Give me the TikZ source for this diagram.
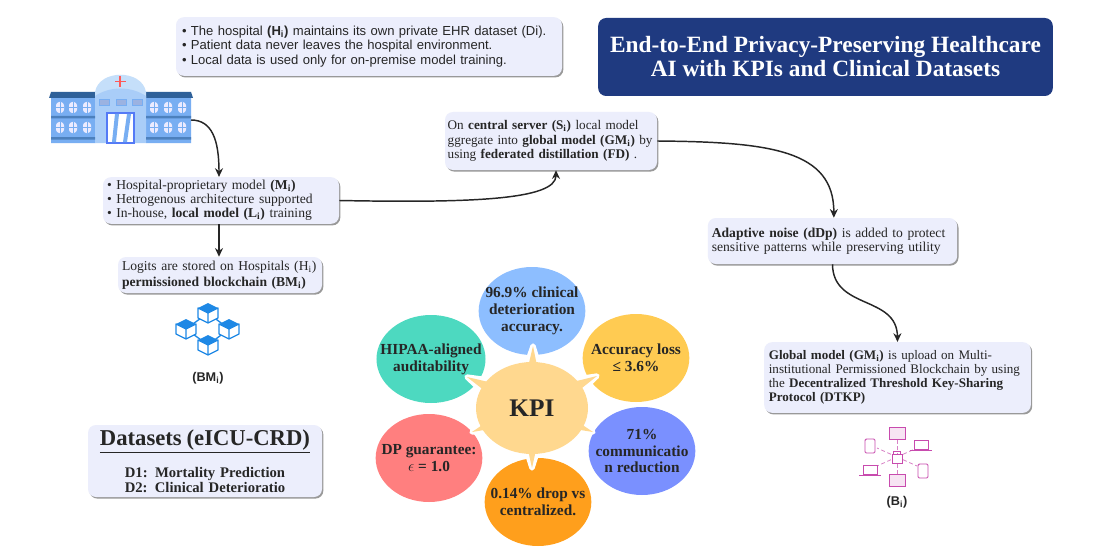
\documentclass[tikz,border=0pt]{standalone}
\usepackage{fontspec}
\setmainfont{Liberation Serif}
\setsansfont{Liberation Sans}
\usepackage{xcolor}
\usetikzlibrary{shapes.geometric,shadows,calc,arrows.meta}
\definecolor{noteblue}{HTML}{ECEEFC}
\definecolor{titlenavy}{HTML}{1F3A80}
\definecolor{kpicore}{HTML}{FFD88F}
\definecolor{kpiblue}{HTML}{8DBEFF}
\definecolor{kpiyellow}{HTML}{FFCB52}
\definecolor{kpiviolet}{HTML}{7A90FF}
\definecolor{kpiorange}{HTML}{FF9F1C}
\definecolor{kpired}{HTML}{FF7F7F}
\definecolor{kpiteal}{HTML}{4DD9C0}
\definecolor{wingblue}{HTML}{78AEF2}
\definecolor{roofblue}{HTML}{2F6199}
\definecolor{domeblue}{HTML}{C5DFFA}
\definecolor{hallblue}{HTML}{A9CDF8}
\definecolor{cubeblue}{HTML}{1E88E5}
\definecolor{devpink}{HTML}{C84BAE}
\newcommand{\sbi}{\textsubscript{i}}
\newcommand{\blt}{\textbullet\ }

\begin{document}
\begin{tikzpicture}[
    x=0.75pt, y=-0.75pt,
    notebox/.style={draw=none, fill=noteblue, rounded corners=6pt, align=left, inner ysep=0pt, inner xsep=3pt,
      font=\fontsize{10.2}{10.6}\selectfont, text=black!85,
      drop shadow={shadow xshift=1pt, shadow yshift=-1.2pt, fill=black!40, opacity=1}},
    petal/.style={ellipse, minimum width=80pt, minimum height=66pt, inner xsep=-9pt, inner ysep=0pt, align=center,
      font=\bfseries\fontsize{11.5}{12.6}\selectfont, text=black!85},
    arr/.style={-{Stealth[length=6.5pt,width=6pt]}, line width=1.1pt, black!85},
    iconlabel/.style={font=\sffamily\bfseries\fontsize{9.5}{11}\selectfont, text=black!85},
    cube/.pic={
      \fill[cubeblue] (0,-10) -- (10,-5) -- (0,0) -- (-10,-5) -- cycle;
      \draw[cubeblue, line width=0.9pt, fill=white, line join=round]
        (-10,-5) -- (0,0) -- (10,-5) -- (10,5) -- (0,10) -- (-10,5) -- cycle (0,0) -- (0,10);
    },
    win/.style={fill=#1, rounded corners=2.5pt}
  ]
    \useasboundingbox (0,0) rectangle (1100,560);
    \fill[white] (0,0) rectangle (1100,560);

    \node[notebox, minimum width=289.5pt, text width=280.5pt, inner xsep=4.5pt, minimum height=44pt, font=\sffamily\fontsize{9.8}{10.6}\selectfont] (note) at (369,46.5)
      {\blt The hospital \textbf{(H\sbi)} maintains its own private EHR dataset (Di).\\
       \blt Patient data never leaves the hospital environment.\\
       \blt Local data is used only for on-premise model training.};
    \node[fill=titlenavy, rounded corners=6pt, minimum width=341pt, minimum height=58.5pt, align=center, text=white,
      font=\bfseries\fontsize{17.5}{18}\selectfont] (title) at (825.5,57)
      {End-to-End Privacy-Preserving Healthcare\\AI with KPIs and Clinical Datasets};

    % hospital
    \fill[wingblue] (51,98) rectangle (95,143) (146,98) rectangle (191,143);
    \fill[roofblue] (49,98) -- (51,92) -- (95,92) -- (95,98) -- cycle (146,98) -- (146,92) -- (191,92) -- (193,98) -- cycle;
    \fill[domeblue] (95,92) .. controls (99,69) and (142,69) .. (146,92) -- (146,98) -- (95,98) -- cycle;
    \fill[hallblue] (95,96) .. controls (110,86) and (131,86) .. (146,96) -- (146,143) -- (95,143) -- cycle;
    \fill[roofblue!60!wingblue] (51,116) rectangle (95,118.5) (146,116) rectangle (191,118.5) (51,137) rectangle (95,139.5) (146,137) rectangle (191,139.5);
    \foreach \wx in {56,69,83,150,164,178}
      \foreach \wy in {102,122} {
        \fill[win=blue!8] (\wx,\wy) rectangle ++(8,11);
        \draw[wingblue, line width=0.3pt] (\wx+4,\wy) -- (\wx+4,\wy+11) (\wx,\wy+5) -- (\wx+8,\wy+5);
      }
    \foreach \wx in {99,116,132}
      \fill[cyan!45!blue!40, draw=wingblue] (\wx,99) rectangle ++(10,6);
    \draw[wingblue!70!blue, line width=0.8pt, fill=white] (107,113) rectangle (134,143);
    \fill[wingblue] (112,142) -- (115,114) -- (119,114) -- (116,142) -- cycle (123,142) -- (127,114) -- (131,114) -- (127,142) -- cycle;
    \draw[red!65!white, line width=0.9pt] (120,76) -- (120,87) (115,81.5) -- (125.5,81.5);
    \coordinate (hospital) at (191,120);

    \node[notebox, minimum width=177pt, text width=171pt, minimum height=35pt] (model) at (221,200.5)
      {\blt Hospital-proprietary model \textbf{(M\sbi)}\\
       \blt Hetrogenous architecture supported\\
       \blt In-house, \textbf{local model (L\sbi)} training};
    \node[notebox, minimum width=153pt, text width=147pt, minimum height=27pt, font=\fontsize{10.2}{11.6}\selectfont] (logits) at (220,275)
      {Logits are stored on Hospitals (H\sbi)\\
       \textbf{permissioned blockchain (BM\sbi)}};
    \node[notebox, minimum width=159pt, text width=155pt, inner xsep=2pt, minimum height=43.5pt, font=\fontsize{9.9}{10.8}\selectfont] (server) at (551,141)
      {On \textbf{central server (S\sbi)} local model\\
       ggregate into \textbf{global model (GM\sbi)} by\\
       using \textbf{federated distillation (FD)} .};
    \node[notebox, minimum width=187pt, text width=181pt, minimum height=34.5pt] (noise) at (832.5,241)
      {\textbf{Adaptive noise (dDp)} is added to protect\\
       sensitive patterns while preserving utility};
    \node[notebox, minimum width=200pt, text width=193pt, inner xsep=3.5pt, minimum height=53pt, font=\fontsize{9.8}{10.6}\selectfont] (upload) at (897.5,377.5)
      {\textbf{Global model (GM\sbi)} is upload on Multi-\\
       institutional Permissioned Blockchain by using\\
       the \textbf{Decentralized Threshold Key-Sharing}\\
       \textbf{Protocol (DTKP)}};
    \node[notebox, align=center, minimum width=175.5pt, text width=169.5pt, minimum height=54pt, font=\bfseries\fontsize{11}{11.2}\selectfont] (datasets) at (205,461)
      {{\fontsize{17}{18}\selectfont\underline{Datasets (eICU-CRD)}}\\[10pt]
       D1: Mortality Prediction\\D2: Clinical Deterioratio};

    % blockchain icon
    \coordinate (cubeT) at (208,313);
    \coordinate (cubeL) at (186,329);
    \coordinate (cubeR) at (229,329);
    \coordinate (cubeB) at (208,345);
    \foreach \i/\j in {cubeT/cubeL, cubeT/cubeR, cubeL/cubeB, cubeR/cubeB}
      \draw[cubeblue, line width=1pt] (\i) -- (\j);
    \foreach \i in {cubeT,cubeL,cubeR,cubeB}
      \pic at (\i) {cube};
    \node[iconlabel] (bmlabel) at (208,378) {(BM\sbi)};

    % network icon
    \coordinate (lock) at (897,457);
    \foreach \i/\j in {897/440, 897/474, 877/448, 917/448, 877/466, 917/466}
      \draw[devpink!70, densely dashed, line width=0.6pt] (lock) -- (\i,\j);
    \foreach \i/\j in {897/433, 897/480}
      \draw[devpink, line width=0.7pt, fill=devpink!15] (\i-8,\j-6) rectangle (\i+8,\j+6);
    \foreach \i/\j in {870/446, 923/471}
      \draw[devpink, line width=0.7pt, fill=white, rounded corners=1pt] (\i-5,\j-7) rectangle (\i+5,\j+7);
    \foreach \i/\j in {921/445, 870/470}
      \draw[devpink, line width=0.7pt, fill=white] (\i-7,\j-5) rectangle (\i+7,\j+4) (\i-11,\j+5) -- (\i+11,\j+5);
    \draw[devpink, line width=0.7pt, fill=white] (892,454) rectangle (902,463);
    \draw[devpink, line width=0.7pt] (893.5,454) -- (893.5,451) -- (900.5,451) -- (900.5,454);
    \node[iconlabel] (blabel) at (897,502) {(B\sbi)};

    % KPI flower
    \node[petal, fill=kpiblue] (acc) at (532,311) {96.9\% clinical\\deterioration\\accuracy.};
    \node[petal, fill=kpiyellow] (loss) at (636,358) {Accuracy loss\\≤ 3.6\%};
    \node[petal, fill=kpiviolet] (comm) at (642,451) {71\%\\communicatio\\n reduction};
    \node[petal, fill=kpiorange] (drop) at (538,502) {0.14\% drop vs\\centralized.};
    \node[petal, fill=kpired] (dp) at (429,458) {DP guarantee:\\{}$\epsilon$ = 1.0};
    \node[petal, fill=kpiteal] (hipaa) at (431,359) {HIPAA-aligned\\auditability};
    \coordinate (kpicentre) at (532,408);
    \foreach \tname/\tx/\ty in {tipa/533/346, tipb/597/376, tipc/593/432, tipd/532/468, tipe/472/432, tipf/467/377} {
      \coordinate (\tname) at (\tx,\ty);
      \draw[white, line width=4pt, line join=round, fill=white]
        ($(kpicentre)!0.32!90:(\tname)$) -- (\tname) -- ($(kpicentre)!0.32!-90:(\tname)$) -- cycle;
    }
    \foreach \tname in {tipa,tipb,tipc,tipd,tipe,tipf}
      \fill[kpicore] ($(kpicentre)!0.22!90:(\tname)$) -- (\tname) -- ($(kpicentre)!0.22!-90:(\tname)$) -- cycle;
    \node[ellipse, fill=kpicore, minimum width=84pt, minimum height=69pt, inner sep=0pt, font=\bfseries\fontsize{19}{21}\selectfont, text=black!85] (kpi) at (kpicentre) {KPI};

    \draw[arr] (hospital) .. controls (212,120) and (219,140) .. ([xshift=-1.5pt]model.north);
    \draw[arr] ([xshift=-1.5pt]model.south) -- ([xshift=-0.75pt]logits.north);
    \draw[arr] (model.east) .. controls (470,203) and (556,200) .. ([xshift=3.75pt]server.south);
    \draw[arr] (server.east) .. controls (770,142) and (834,150) .. ([xshift=1pt]noise.north);
    \draw[arr] (noise.south) .. controls (833,310) and (897,295) .. (upload.north);
  \end{tikzpicture}
\end{document}
